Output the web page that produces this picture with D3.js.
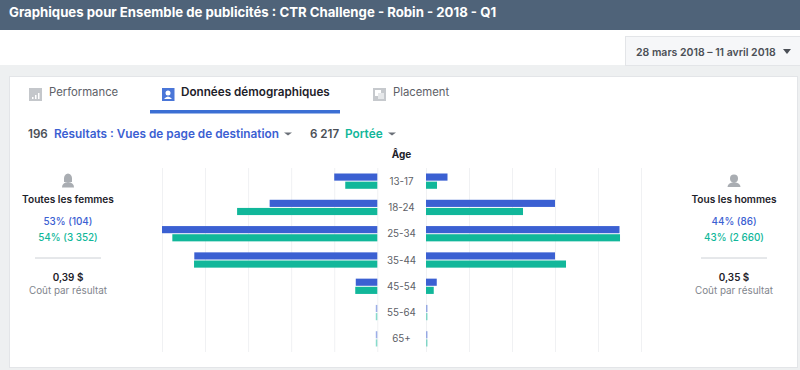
<!DOCTYPE html>
<html>
<head>
<meta charset="utf-8">
<script src="https://cdn.jsdelivr.net/npm/d3@7"></script>
<style>
  html, body { margin: 0; padding: 0; background: #eef0f1; }
  svg { display: block; font-family: Inter, "Liberation Sans", sans-serif; }
</style>
</head>
<body>
<svg id="chart" width="800" height="370"></svg>
<script>
// Values
let ages = ["13-17", "18-24", "25-34", "35-44", "45-54", "55-64", "65+"];
let femmesResultats = [8, 20, 40, 34, 4, 0, 0];
let femmesPortee = [186, 814, 1190, 1064, 128, 0, 0];
let hommesResultats = [4, 24, 36, 24, 2, 0, 0];
let hommesPortee = [64, 564, 1128, 814, 45, 0, 0];
let resultatsTicks = [0, 8, 16, 24, 32, 40];
let tabs = ["Performance", "Données démographiques", "Placement"];

let blue = "#3b60d2", green = "#11b79a", dark = "#1d2129", grey = "#4b4f56", light = "#7f858d";

let svg = d3.select("#chart");

function txt(x, y, s, size, weight, color, anchor) {
    return svg.append("text")
        .attr("x", x).attr("y", y)
        .attr("font-size", size)
        .attr("font-weight", weight)
        .attr("fill", color)
        .attr("text-anchor", anchor || "start")
        .text(s);
}

// Page background, header and card
svg.append("rect").attr("width", 800).attr("height", 370).attr("fill", "#eef0f1");
svg.append("rect").attr("y", 30).attr("width", 800).attr("height", 35).attr("fill", "#fff");
svg.append("rect").attr("width", 800).attr("height", 30).attr("fill", "#4f6379");
txt(9, 16.5, "Graphiques pour Ensemble de publicités : CTR Challenge - Robin - 2018 - Q1", 13.2, 700, "#fff");

svg.append("rect").attr("x", 625.5).attr("y", 36.5).attr("width", 175).attr("height", 29)
    .attr("fill", "#f6f7f9").attr("stroke", "#e3e5e8");
txt(636, 56, "28 mars 2018 – 11 avril 2018", 10.5, 600, grey);
svg.append("path").attr("d", "M783,49 h8 l-4,5 z").attr("fill", grey);

svg.append("rect").attr("x", 9.5).attr("y", 76.5).attr("width", 788).attr("height", 291)
    .attr("fill", "#fff").attr("stroke", "#e3e5e8");

// Tabs
svg.append("rect").attr("x", 29).attr("y", 88).attr("width", 13).attr("height", 13).attr("fill", "#c4c7cb");
svg.append("path").attr("d", "M32,99 v-2 h1.5 v2 z M35,99 v-4 h1.5 v4 z M38,99 v-6 h1.5 v6 z").attr("fill", "#fff");
svg.append("rect").attr("x", 162).attr("y", 88).attr("width", 12.5).attr("height", 13).attr("fill", "#4a76d8");
svg.append("circle").attr("cx", 168).attr("cy", 93).attr("r", 2.5).attr("fill", "#fff");
svg.append("path").attr("d", "M164,99 q4,-5 8,0 z").attr("fill", "#fff");
svg.append("rect").attr("x", 373).attr("y", 88).attr("width", 13).attr("height", 13).attr("fill", "#c6c9cd");
svg.append("rect").attr("x", 375).attr("y", 90).attr("width", 6).attr("height", 6).attr("fill", "#fff");
svg.append("rect").attr("x", 378).attr("y", 93).attr("width", 6).attr("height", 6).attr("fill", "#e6e8ea");
txt(49, 96, tabs[0], 11.3, 400, "#5d6167");
txt(181, 96, tabs[1], 11.7, 600, dark);
txt(393, 96, tabs[2], 11.3, 400, "#5d6167");
svg.append("rect").attr("x", 150).attr("y", 110).attr("width", 190).attr("height", 3.5).attr("fill", "#3b6fd4");

// Metric selectors
txt(28, 138, "196", 11.6, 600, grey);
txt(54, 138, "Résultats : Vues de page de destination", 11.8, 600, blue);
svg.append("path").attr("d", "M284,132.5 h8 l-4,3 z").attr("fill", "#6b7078");
txt(310, 138, "6 217", 11.6, 600, grey);
txt(345, 138, "Portée", 11.8, 600, green);
svg.append("path").attr("d", "M388,132.5 h8 l-4,3 z").attr("fill", "#6b7078");

// Scales
let y = d3.scaleBand().domain(ages).range([168, 352]);
let series = d3.scaleBand().domain(["resultats", "portee"]).range([5, y.bandwidth() - 5]);

let resLeft = d3.scaleLinear().domain([0, 40]).range([377.3, 162]);
let resRight = d3.scaleLinear().domain([0, 40]).range([426, 641]);
let porLeft = d3.scaleLinear().domain([0, 1250]).range([377.3, 162]);
let porRight = d3.scaleLinear().domain([0, 1250]).range([426, 641]);

// Gridlines
[resLeft, resRight].forEach(function(scale) {
    let g = svg.append("g")
        .attr("transform", "translate(0,168)")
        .call(d3.axisBottom(scale).tickValues(resultatsTicks).tickSize(184).tickFormat(""));
    g.select(".domain").remove();
    g.selectAll("line").attr("stroke", "#f0f1f3");
});

// Draws one side of the pyramid for one metric
function drawBars(values, scale, key, color) {
    let zero = scale(0);
    svg.append("g").selectAll("rect")
        .data(values)
        .enter().append("rect")
        .attr("x", function(d) { return Math.min(zero, scale(d)) - (d === 0 && scale.range()[1] < zero ? 1.5 : 0); })
        .attr("y", function(d, i) { return y(ages[i]) + series(key) + 0.5; })
        .attr("width", function(d) { return Math.max(Math.abs(scale(d) - zero), 1.5); })
        .attr("height", series.bandwidth() - 1)
        .attr("fill", color)
        .attr("opacity", function(d) { return d === 0 ? 0.5 : 1; });
}
drawBars(femmesResultats, resLeft, "resultats", blue);
drawBars(femmesPortee, porLeft, "portee", green);
drawBars(hommesResultats, resRight, "resultats", blue);
drawBars(hommesPortee, porRight, "portee", green);

// Age labels
txt(401.5, 157.5, "Âge", 10, 700, dark, "middle");
svg.append("g").selectAll("text")
    .data(ages)
    .enter().append("text")
    .attr("x", 401.5)
    .attr("y", function(d) { return y(d) + y.bandwidth() / 2 + 3.5; })
    .attr("text-anchor", "middle")
    .attr("font-size", 9.8)
    .attr("fill", "#5d6167")
    .text(function(d) { return d; });

// Side panels
function panel(cx, title, resultats, portee, cout, female) {
    if (female) {
        svg.append("path").attr("d", "M" + (cx - 4) + ",182 q-1,-8 4,-8.5 q5,0.5 4,8.5 z").attr("fill", "#a9adb2");
        svg.append("path").attr("d", "M" + (cx - 6) + ",187.5 q0,-5 6,-5.5 q6,0.5 6,5.5 z").attr("fill", "#a9adb2");
    } else {
        svg.append("circle").attr("cx", cx).attr("cy", 178.5).attr("r", 4).attr("fill", "#a9adb2");
        svg.append("path").attr("d", "M" + (cx - 6.5) + ",187 q0,-4 6.5,-5 q6.5,1 6.5,5 z").attr("fill", "#a9adb2");
    }
    txt(cx, 203, title, 10.1, 600, dark, "middle");
    txt(cx, 225, resultats, 9.9, 500, blue, "middle");
    txt(cx, 241, portee, 9.9, 500, green, "middle");
    svg.append("line").attr("x1", cx - 33).attr("x2", cx + 33).attr("y1", 258).attr("y2", 258)
        .attr("stroke", "#ccd0d5");
    txt(cx, 281, cout, 9.9, 600, dark, "middle");
    txt(cx, 294, "Coût par résultat", 9.9, 400, light, "middle");
}
panel(68, "Toutes les femmes", "53% (104)", "54% (3 352)", "0,39 $", true);
panel(734, "Tous les hommes", "44% (86)", "43% (2 660)", "0,35 $", false);
</script>
</body>
</html>
